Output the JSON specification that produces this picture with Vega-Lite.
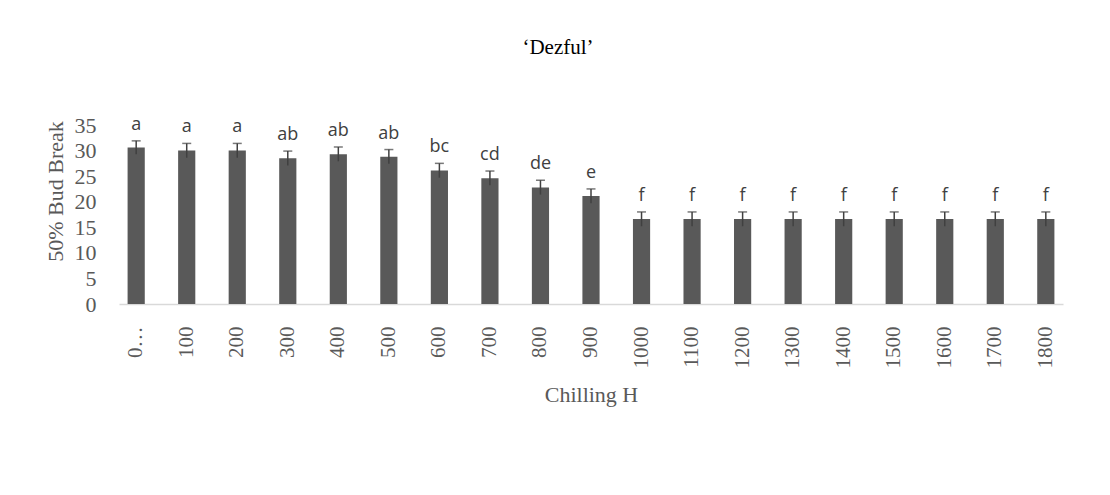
{
  "$schema": "https://vega.github.io/schema/vega-lite/v6.json",
  "autosize": "none",
  "width": 944,
  "height": 179,
  "padding": {"left": 119, "top": 125, "right": 47, "bottom": 191},
  "background": "white",
  "title": {
    "text": "‘Dezful’",
    "font": "Liberation Serif",
    "fontSize": 21,
    "fontWeight": "normal",
    "color": "#000000",
    "offset": 56,
    "dx": -33,
    "anchor": "middle"
  },
  "data": {
    "values": [
      {"hours": "0", "mean": 30.6, "err": 1.3, "grp": "a"},
      {"hours": "100", "mean": 30.0, "err": 1.4, "grp": "a"},
      {"hours": "200", "mean": 30.0, "err": 1.4, "grp": "a"},
      {"hours": "300", "mean": 28.5, "err": 1.4, "grp": "ab"},
      {"hours": "400", "mean": 29.3, "err": 1.4, "grp": "ab"},
      {"hours": "500", "mean": 28.8, "err": 1.4, "grp": "ab"},
      {"hours": "600", "mean": 26.1, "err": 1.4, "grp": "bc"},
      {"hours": "700", "mean": 24.6, "err": 1.4, "grp": "cd"},
      {"hours": "800", "mean": 22.8, "err": 1.4, "grp": "de"},
      {"hours": "900", "mean": 21.1, "err": 1.4, "grp": "e"},
      {"hours": "1000", "mean": 16.6, "err": 1.4, "grp": "f"},
      {"hours": "1100", "mean": 16.6, "err": 1.4, "grp": "f"},
      {"hours": "1200", "mean": 16.6, "err": 1.4, "grp": "f"},
      {"hours": "1300", "mean": 16.6, "err": 1.4, "grp": "f"},
      {"hours": "1400", "mean": 16.6, "err": 1.4, "grp": "f"},
      {"hours": "1500", "mean": 16.6, "err": 1.4, "grp": "f"},
      {"hours": "1600", "mean": 16.6, "err": 1.4, "grp": "f"},
      {"hours": "1700", "mean": 16.6, "err": 1.4, "grp": "f"},
      {"hours": "1800", "mean": 16.6, "err": 1.4, "grp": "f"}
    ]
  },
  "transform": [
    {"calculate": "datum.mean - datum.err", "as": "lo"},
    {"calculate": "datum.mean + datum.err", "as": "hi"}
  ],
  "encoding": {
    "x": {
      "field": "hours",
      "type": "nominal",
      "sort": null,
      "scale": {"paddingInner": 0.66, "paddingOuter": 0.17},
      "axis": {
        "title": "Chilling H",
        "titleFont": "Liberation Serif",
        "titleFontSize": 22,
        "titleFontWeight": "normal",
        "titleColor": "#595959",
        "titlePadding": 16,
        "labelFont": "Liberation Serif",
        "labelFontSize": 21,
        "labelColor": "#595959",
        "labelAngle": -90,
        "labelPadding": 22,
        "labelOverlap": false,
        "labelExpr": "datum.value == '0' ? '0…' : datum.label",
        "ticks": false,
        "domainColor": "#d9d9d9",
        "domainWidth": 1.5,
        "grid": false
      }
    }
  },
  "layer": [
    {
      "mark": {"type": "bar", "color": "#595959"},
      "encoding": {
        "y": {
          "field": "mean",
          "type": "quantitative",
          "scale": {"domain": [0, 35], "nice": false},
          "axis": {"title": "50% Bud Break", "values": [0, 5, 10, 15, 20, 25, 30, 35]}
        }
      }
    },
    {
      "mark": {"type": "rule", "color": "#404040", "strokeWidth": 1.5},
      "encoding": {
        "y": {"field": "lo", "type": "quantitative", "axis": {"title": "50% Bud Break", "values": [0, 5, 10, 15, 20, 25, 30, 35]}},
        "y2": {"field": "hi"}
      }
    },
    {
      "mark": {"type": "tick", "color": "#404040", "thickness": 1.5, "size": 9, "orient": "horizontal"},
      "encoding": {
        "y": {"field": "hi", "type": "quantitative", "axis": {"title": "50% Bud Break", "values": [0, 5, 10, 15, 20, 25, 30, 35]}}
      }
    },
    {
      "mark": {"type": "text", "font": "Open Sans", "fontSize": 18, "color": "#404040", "baseline": "alphabetic", "dy": -11},
      "encoding": {
        "y": {"field": "hi", "type": "quantitative", "axis": {"title": "50% Bud Break", "values": [0, 5, 10, 15, 20, 25, 30, 35]}},
        "text": {"field": "grp"}
      }
    }
  ],
  "config": {
    "view": {"stroke": null},
    "axisY": {
      "titleFont": "Liberation Serif",
      "titleFontSize": 22,
      "titleFontWeight": "normal",
      "titleColor": "#595959",
      "titleX": -64,
      "titleY": 66,
      "titleBaseline": "middle",
      "titleAlign": "center",
      "titleAngle": -90,
      "labelFont": "Liberation Serif",
      "labelFontSize": 22,
      "labelColor": "#595959",
      "labelPadding": 23,
      "labelOverlap": false,
      "labelFlush": false,
      "ticks": false,
      "domain": false,
      "grid": false
    }
  }
}
